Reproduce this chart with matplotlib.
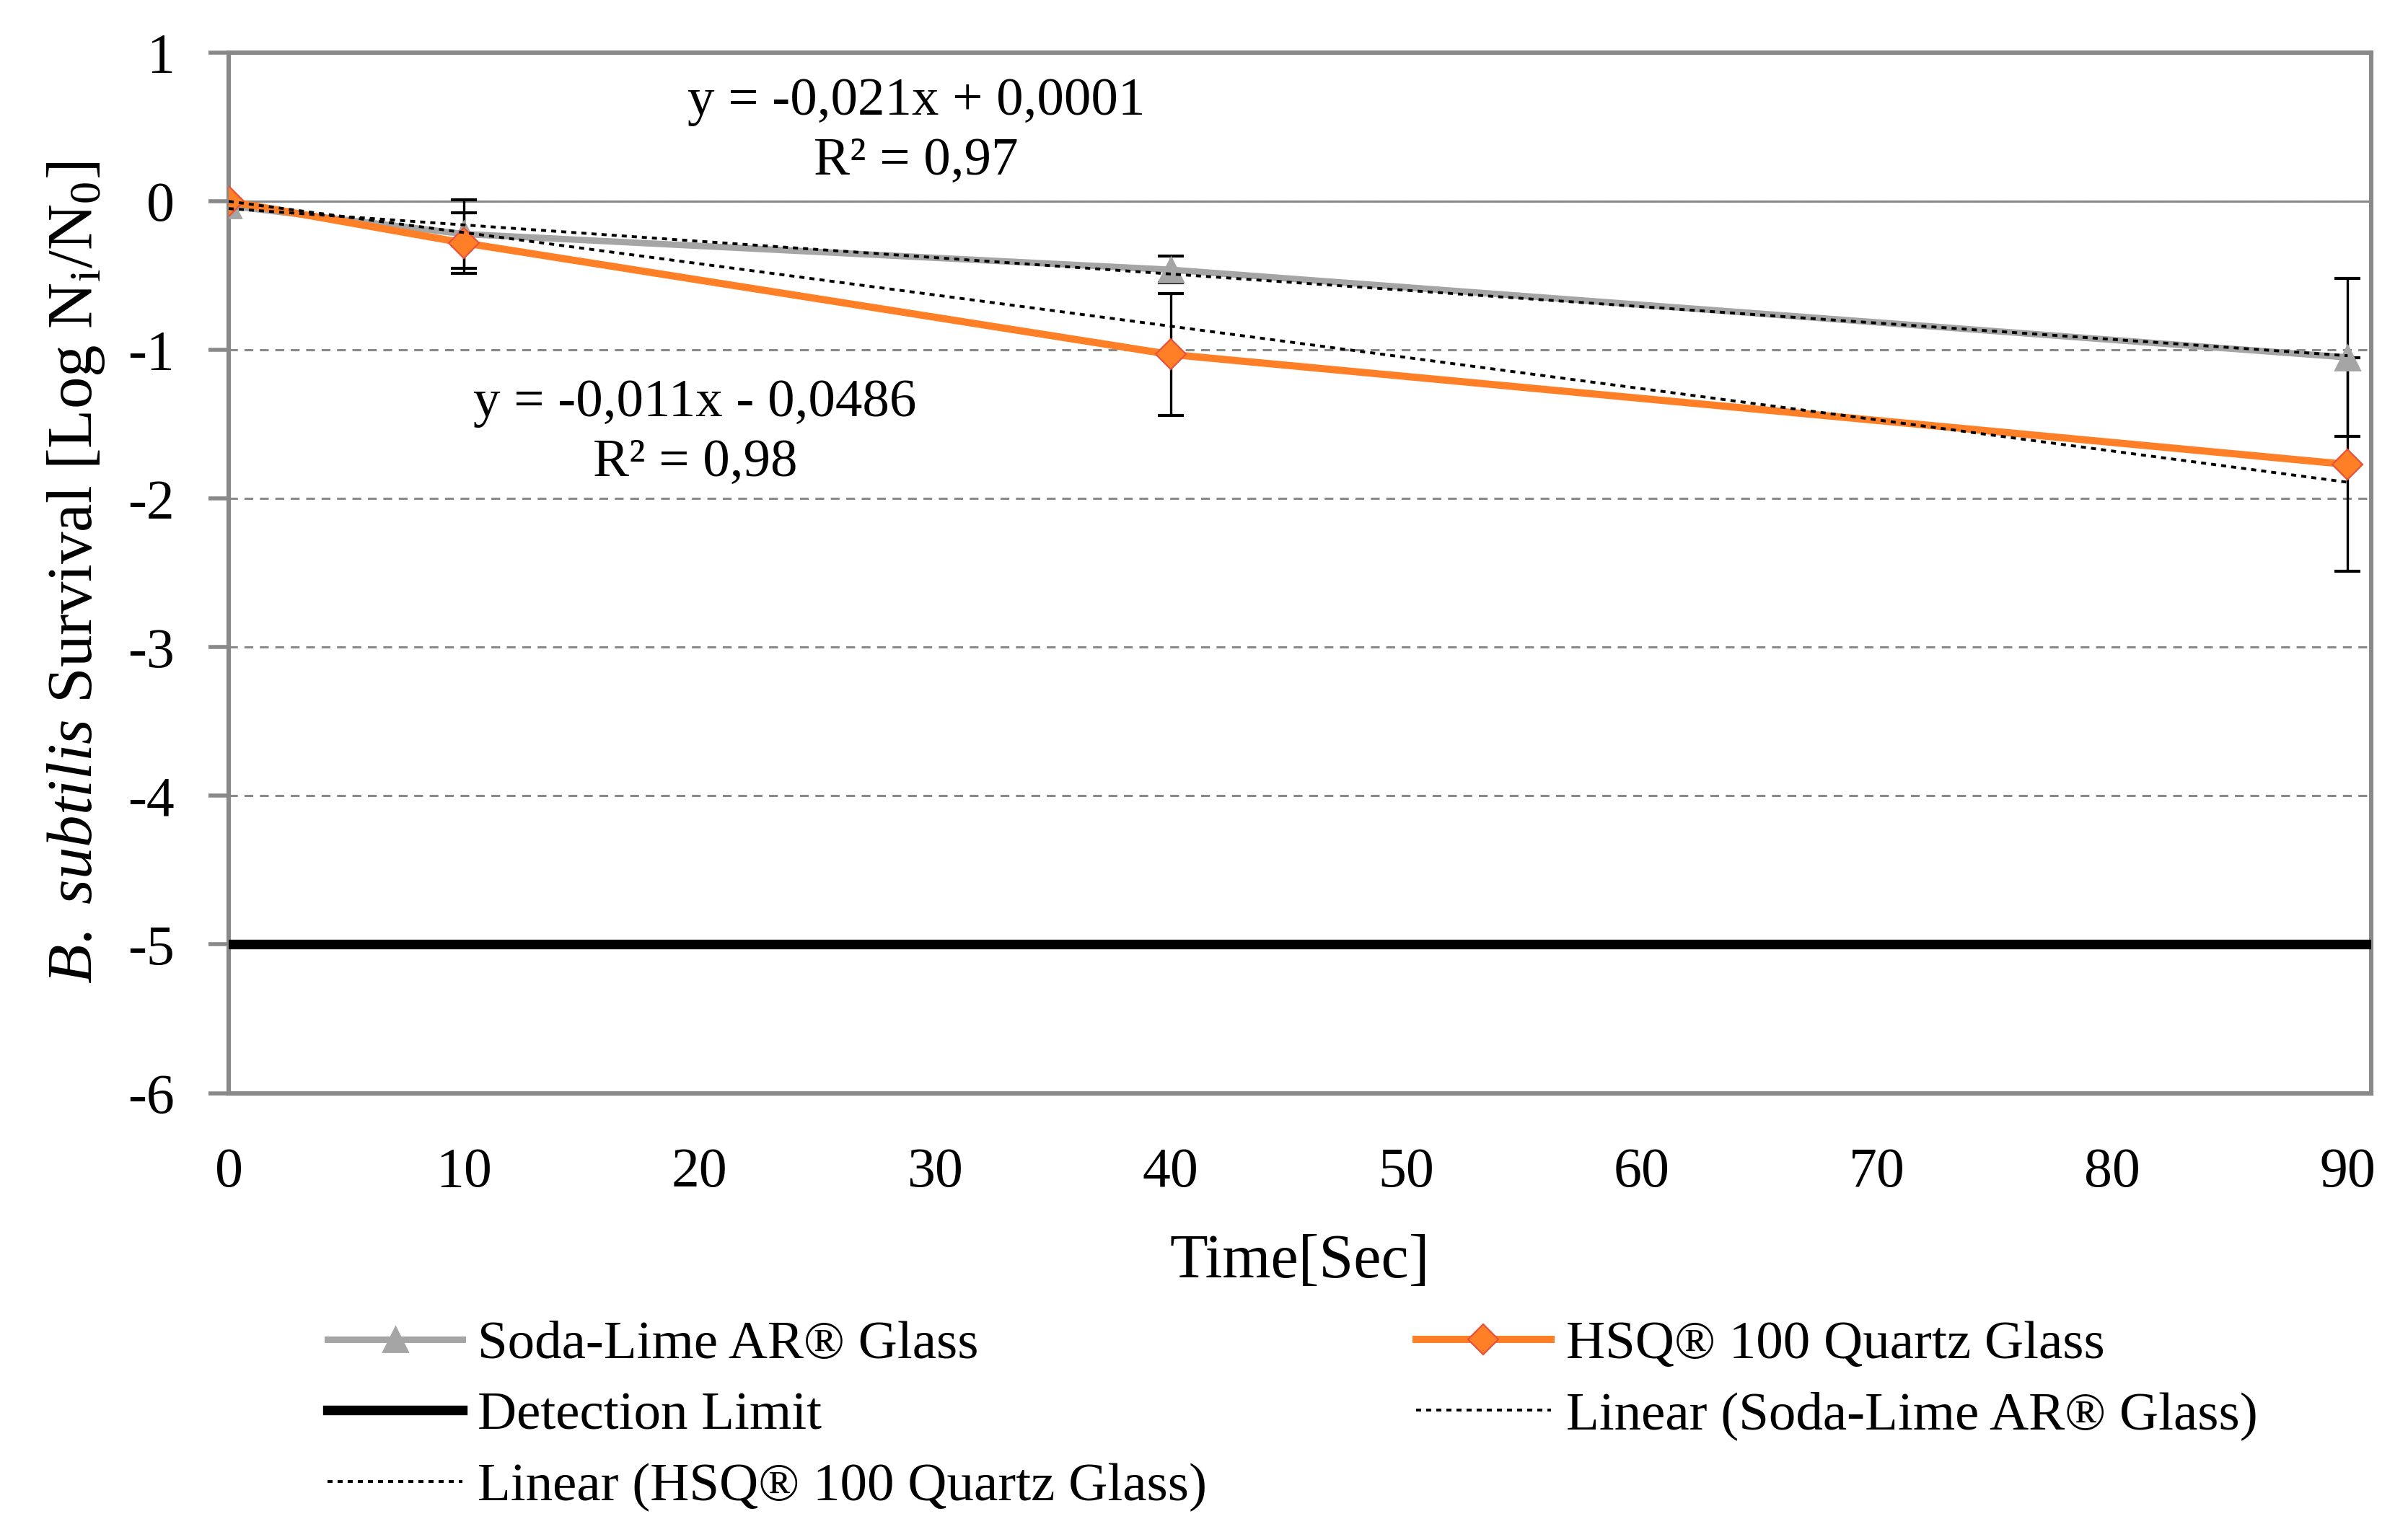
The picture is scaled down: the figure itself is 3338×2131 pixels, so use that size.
import matplotlib
matplotlib.use('Agg')
from matplotlib import pyplot as plt

plt.rcParams['font.family'] = ['Liberation Serif', 'DejaVu Serif']
plt.rcParams['mathtext.fontset'] = 'custom'
plt.rcParams['mathtext.rm'] = 'Liberation Serif'
plt.rcParams['mathtext.it'] = 'Liberation Serif:italic'
plt.rcParams['axes.unicode_minus'] = False

# データ
time = [0, 10, 40, 90]
soda = [-0.03, -0.22, -0.46, -1.05]
soda_err = [0.0, 0.23, 0.09, 0.53]
hsq = [0.0, -0.28, -1.03, -1.77]
hsq_err = [0.0, 0.205, 0.41, 0.72]
detection_limit = -5

# Excel の近似直線 (傾き, 切片)
soda_fit = (-0.011, -0.0486)
hsq_fit = (-0.021, 0.0001)
fit_x = [0, 90]

x_ticks = [0, 10, 20, 30, 40, 50, 60, 70, 80, 90]
y_ticks = [1, 0, -1, -2, -3, -4, -5, -6]

GREY = '#a5a5a5'
ORANGE = '#ff7f27'
AXGREY = '#898989'

fig = plt.figure(figsize=(3338 / 200, 2131 / 200), dpi=200)
ax = fig.add_axes([0.0950, 0.2888, 0.8897, 0.6769])
ax.set_xlim(0, 91)
ax.set_ylim(-6, 1)

# グリッド
ax.set_yticks(y_ticks)
ax.set_xticks(x_ticks)
ax.grid(axis='y', color=AXGREY, lw=1.1, ls=(0, (4, 3)), zorder=0)
ax.axhline(0, color=AXGREY, lw=1.1, zorder=1)

# エラーバー
ax.errorbar(time[1:], soda[1:], yerr=soda_err[1:], fmt='none', ecolor='black',
            elinewidth=1.2, capsize=6.5, capthick=1.5, zorder=2)
ax.errorbar(time[1:], hsq[1:], yerr=hsq_err[1:], fmt='none', ecolor='black',
            elinewidth=1.2, capsize=6.5, capthick=1.5, zorder=2)

l_soda, = ax.plot(time, soda, color=GREY, lw=3.2, marker='^', ms=12,
                  mfc=GREY, mec=GREY, zorder=3, label='Soda-Lime AR® Glass')
l_hsq, = ax.plot(time, hsq, color=ORANGE, lw=3.6, marker='D', ms=10.5,
                 mfc=ORANGE, mec='#e8503a', mew=0.8, zorder=4,
                 label='HSQ® 100 Quartz Glass')
l_det = ax.axhline(detection_limit, color='black', lw=4.8, zorder=3,
                   label='Detection Limit')

fy_soda = [soda_fit[0] * x + soda_fit[1] for x in fit_x]
fy_hsq = [hsq_fit[0] * x + hsq_fit[1] for x in fit_x]
l_fs, = ax.plot(fit_x, fy_soda, color='black', lw=1.4, ls=(0, (1.8, 1.8)),
                zorder=5, label='Linear (Soda-Lime AR® Glass)')
l_fh, = ax.plot(fit_x, fy_hsq, color='black', lw=1.4, ls=(0, (1.8, 1.8)),
                zorder=5, label='Linear (HSQ® 100 Quartz Glass)')

# 近似式
ax.text(29.2, 0.67, 'y = -0,021x + 0,0001', fontsize=27, ha='center', va='center')
ax.text(29.2, 0.265, 'R² = 0,97', fontsize=27, ha='center', va='center')
ax.text(19.8, -1.36, 'y = -0,011x - 0,0486', fontsize=27, ha='center', va='center')
ax.text(19.8, -1.76, 'R² = 0,98', fontsize=27, ha='center', va='center')

# 軸
for s in ax.spines.values():
    s.set_color(AXGREY)
    s.set_linewidth(2.2)
ax.tick_params(axis='y', direction='out', length=10, width=2, color=AXGREY,
               pad=17, labelsize=28)
ax.tick_params(axis='x', length=0, pad=27, labelsize=28)

ax.set_xlabel('Time[Sec]', fontsize=31)
ax.xaxis.set_label_coords(0.5, -0.135)
ax.set_ylabel(r'$\mathit{B.\ subtilis}$ Survival [Log N$_\mathrm{i}$/N$_\mathrm{0}$]',
              fontsize=32)
ax.yaxis.set_label_coords(-0.057, 0.5)

# 凡例 (2列)
leg_kw = dict(loc='upper left', frameon=False, fontsize=27, handlelength=2.5,
              handletextpad=0.28, labelspacing=0.40, borderpad=0, borderaxespad=0)
fig.legend(handles=[l_soda, l_det, l_fh], bbox_to_anchor=(0.136, 0.141), **leg_kw)
fig.legend(handles=[l_hsq, l_fs], bbox_to_anchor=(0.588, 0.141), **leg_kw)

fig.savefig('out.png', dpi=200)
